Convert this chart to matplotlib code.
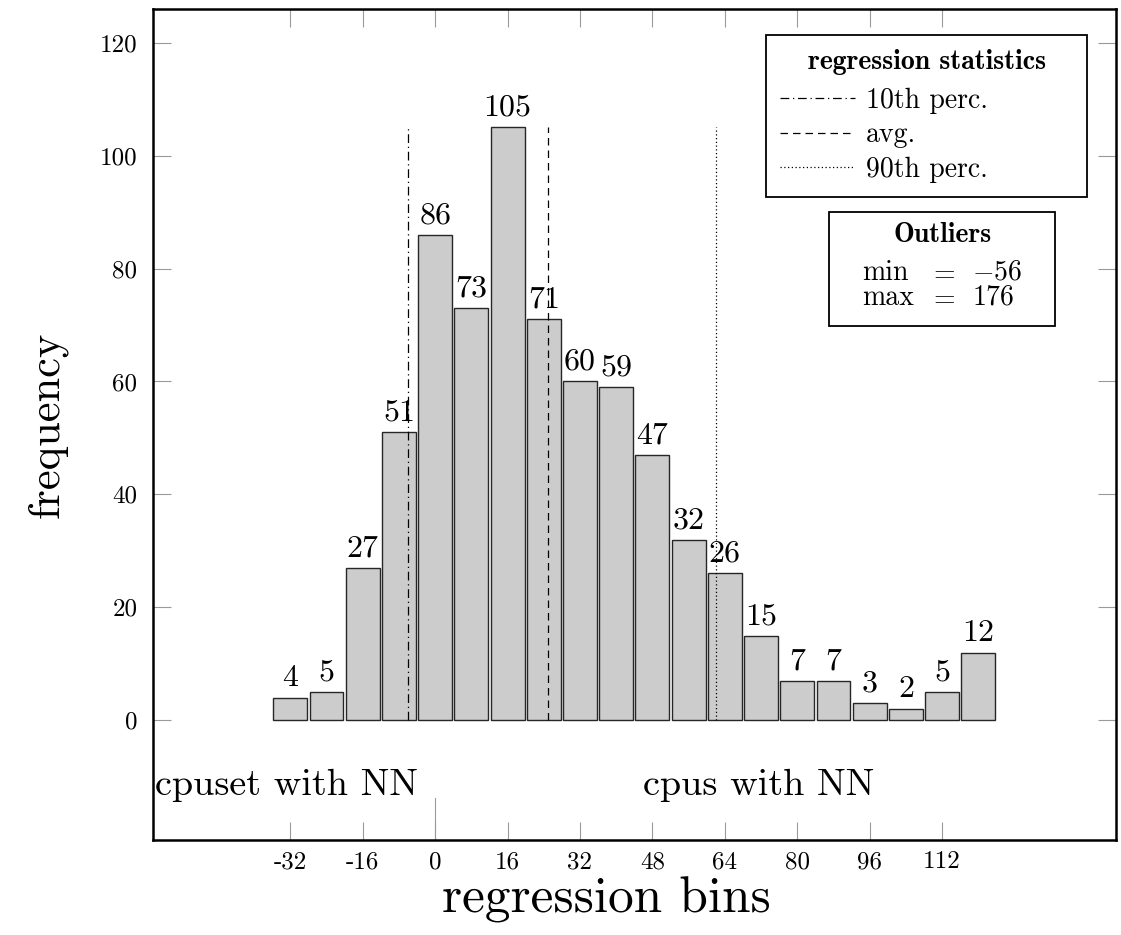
import matplotlib; matplotlib.use("Agg")
import matplotlib.pyplot as plt
from matplotlib.patches import Rectangle

plt.rcParams['font.family'] = 'cmr10'
plt.rcParams['mathtext.fontset'] = 'cm'
plt.rcParams['axes.unicode_minus'] = False

# --- histogram of regression bins ---
bins = [-32, -24, -16, -8, 0, 8, 16, 24, 32, 40, 48, 56, 64, 72, 80, 88, 96, 104, 112, 120]
counts = [4, 5, 27, 51, 86, 73, 105, 71, 60, 59, 47, 32, 26, 15, 7, 7, 3, 2, 5, 12]
xticks = [-32, -16, 0, 16, 32, 48, 64, 80, 96, 112]
xtick_labels = ['-32', '-16', '0', '16', '32', '48', '64', '80', '96', '112']
yticks = [0, 20, 40, 60, 80, 100, 120]

# regression statistics
p10, avg, p90 = -6, 25, 62
out_min, out_max = -56, 176

GRY = '#9a9a9a'
fig = plt.figure(figsize=(11.21, 9.35), dpi=100)
ax = fig.add_axes([0.1362, 0.1016, 0.8593, 0.8884])

ax.bar(bins, counts, width=7.5, color='#cccccc', edgecolor='#262626', linewidth=1.0, zorder=2)
for x, c in zip(bins, counts):
    ax.annotate(str(c), (x, c), xytext=(0, 4), textcoords='offset points',
                ha='center', va='bottom', fontsize=23)

top = max(counts)
ax.vlines(p10, 0, top, colors='black', linestyles=(0, (7, 3, 1, 3)), lw=0.9,
          label='10th perc.', zorder=3)
ax.vlines(avg, 0, top, colors='black', linestyles=(0, (6, 4)), lw=0.9,
          label='avg.', zorder=3)
ax.vlines(p90, 0, top, colors='black', linestyles=(0, (1, 2)), lw=0.9,
          label='90th perc.', zorder=3)

ax.set_xlim(-62.4, 150.4)
ax.set_ylim(-21.2, 125.9)
ax.set_xticks(xticks, xtick_labels)
ax.set_yticks(yticks)
ax.tick_params(direction='in', length=13, width=0.8, color=GRY,
               top=True, right=True, labelsize=18)
ax.tick_params(axis='x', pad=8)
ax.tick_params(axis='y', pad=11)
ax.axvline(0, ymin=0, ymax=0.0506, color=GRY, lw=0.8)
for s in ax.spines.values():
    s.set_linewidth(1.8)

ax.set_xlabel('regression bins', fontsize=37)
ax.xaxis.set_label_coords(0.4706, -0.044)
ax.set_ylabel('frequency', fontsize=32, labelpad=23)

ax.text(-61.8, -11.5, 'cpuset with NN', fontsize=27.5, ha='left', va='center')
ax.text(46, -11.5, 'cpus with NN', fontsize=27.5, ha='left', va='center')

leg = ax.legend(loc='upper left', bbox_to_anchor=(0.637, 0.769, 0.333, 0.2),
                mode='expand', borderaxespad=0,
                title='regression statistics', fontsize=20, handlelength=2.7,
                handletextpad=0.4, labelspacing=0.3, borderpad=0.5,
                fancybox=False, edgecolor='black', framealpha=1,
                title_fontproperties={'family': 'cmb10', 'size': 20})
leg.get_frame().set_linewidth(1.3)
leg._legend_box.align = 'center'
leg._legend_box.sep = 9

# outliers box
ax.add_patch(Rectangle((0.702, 0.619), 0.235, 0.137, transform=ax.transAxes,
                       fill=False, edgecolor='black', lw=1.3, zorder=4))
ax.text(0.820, 0.728, 'Outliers', transform=ax.transAxes, family='cmb10',
        fontsize=20, ha='center', va='center')
for yy, name, val in [(0.683, 'min', out_min), (0.653, 'max', out_max)]:
    ax.text(0.737, yy, name, transform=ax.transAxes, fontsize=20, ha='left', va='center')
    ax.text(0.820, yy, '$=$', transform=ax.transAxes, fontsize=20, ha='center', va='center')
    ax.text(0.851, yy, '$%d$' % val, transform=ax.transAxes, fontsize=20, ha='left', va='center')

fig.savefig('out.png', dpi=100)
